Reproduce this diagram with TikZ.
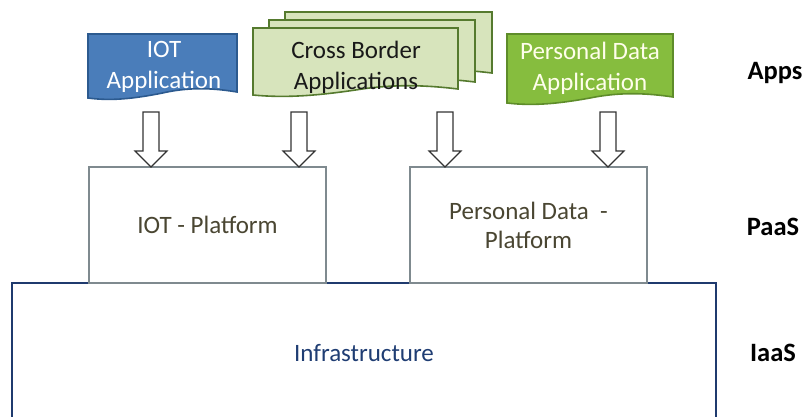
\documentclass[tikz,border=0pt]{standalone}
\usepackage{fontspec}
\setmainfont{Carlito}
\begin{document}
\begin{tikzpicture}[x=1pt,y=-1pt,
  appborder/.style={line width=1.6pt},
  platbox/.style={draw=platgray,line width=1.4pt,fill=white,minimum width=237pt,minimum height=116pt,inner sep=0pt,align=center,text=plattext,font=\fontsize{25}{29}\selectfont},
  apptext/.style={align=center,inner sep=0pt,font=\fontsize{25}{31}\selectfont},
  blockarrow/.style={draw=black!80,fill=white,line width=1.2pt,line join=miter},
  layerlabel/.style={font=\bfseries\fontsize{26.5}{30}\selectfont,inner sep=0pt}]
\definecolor{iotfill}{HTML}{4A7DBA}
\definecolor{iotdraw}{HTML}{2C5A8F}
\definecolor{cbfill}{HTML}{D7E4BC}
\definecolor{cbdraw}{HTML}{557A2E}
\definecolor{pdfill}{HTML}{86BD3E}
\definecolor{pddraw}{HTML}{5E8C2A}
\definecolor{platgray}{HTML}{7F8A8F}
\definecolor{plattext}{HTML}{4A4632}
\definecolor{infradraw}{HTML}{1F3A6E}
\definecolor{infratext}{HTML}{1F3D73}
\newcommand{\docshape}[5]{\draw[#1] (#2,#3) -- ({#2+#4},#3) -- ({#2+#4},{#3+#5}) .. controls ({#2+0.8*#4},{#3+#5-5}) and ({#2+0.65*#4},{#3+#5-4}) .. ({#2+0.5*#4},{#3+#5+1}) .. controls ({#2+0.3*#4},{#3+#5+7}) and ({#2+0.15*#4},{#3+#5+9}) .. (#2,{#3+#5+6}) -- cycle;}
\newcommand{\blockarr}[3]{\draw[blockarrow] ({#1-8},#2) -- ({#1+8},#2) -- ({#1+8},151) -- ({#1+16},151) -- (#1,#3) -- ({#1-16},151) -- ({#1-8},151) -- cycle;}
\clip (0,0) rectangle (808,416);
% infrastructure
\draw[draw=infradraw,line width=1.6pt,fill=white] (12,440) -- (12,283) -- (716,283) -- (716,440);
\node[text=infratext,font=\fontsize{25}{30}\selectfont] (infra) at (364,353) {Infrastructure};
% platforms
\node[platbox] (iotplat) at (207.5,225) {IOT - Platform};
\node[platbox] (pdplat) at (528.5,225) {Personal Data\ \ -\\Platform};
% apps
\docshape{appborder,draw=iotdraw,fill=iotfill}{88}{34}{149}{58}
\node[apptext,text=white] (iotapp) at (164,66.5) {IOT\\Application};
\docshape{appborder,draw=cbdraw,fill=cbfill}{285}{12}{207}{61}
\docshape{appborder,draw=cbdraw,fill=cbfill}{269}{20}{206}{62}
\docshape{appborder,draw=cbdraw,fill=cbfill}{253}{28}{205}{61}
\node[apptext,text=black!90] (cbapp) at (356,67) {Cross Border\\Applications};
\docshape{appborder,draw=pddraw,fill=pdfill}{507}{34}{166}{63}
\node[apptext,text=white!92!yellow] (pdapp) at (590,68) {Personal Data\\Application};
% arrows
\blockarr{151}{112}{167}
\blockarr{299}{112}{167}
\blockarr{445}{112}{167}
\blockarr{608}{112}{167}
% layer labels
\node[layerlabel] (apps) at (775,73) {Apps};
\node[layerlabel] (paas) at (773,227) {PaaS};
\node[layerlabel] (iaas) at (773,353) {IaaS};
\end{tikzpicture}
\end{document}
